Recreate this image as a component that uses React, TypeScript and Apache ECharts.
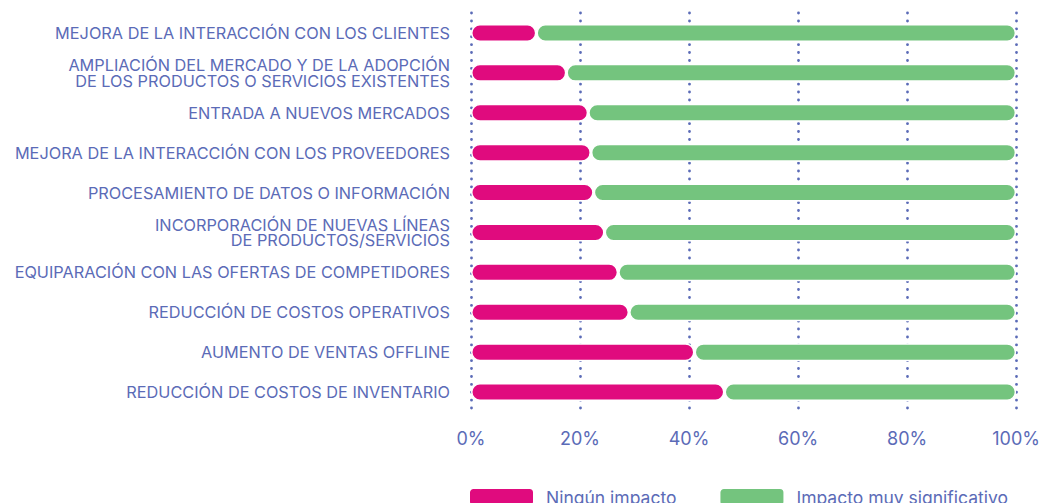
import React, { useEffect, useRef } from "react";
import * as echarts from "echarts";

const categories = [
  "MEJORA DE LA INTERACCIÓN CON LOS CLIENTES",
  "AMPLIACIÓN DEL MERCADO Y DE LA ADOPCIÓN\nDE LOS PRODUCTOS O SERVICIOS EXISTENTES",
  "ENTRADA A NUEVOS MERCADOS",
  "MEJORA DE LA INTERACCIÓN CON LOS PROVEEDORES",
  "PROCESAMIENTO DE DATOS O INFORMACIÓN",
  "INCORPORACIÓN DE NUEVAS LÍNEAS\nDE PRODUCTOS/SERVICIOS",
  "EQUIPARACIÓN CON LAS OFERTAS DE COMPETIDORES",
  "REDUCCIÓN DE COSTOS OPERATIVOS",
  "AUMENTO DE VENTAS OFFLINE",
  "REDUCCIÓN DE COSTOS DE INVENTARIO",
];
const ningunImpacto = [12, 17.5, 21.5, 22, 22.5, 24.5, 27, 29, 41, 46.5];
const impactoMuySignificativo = [88, 82.5, 78.5, 78, 77.5, 75.5, 73, 71, 59, 53.5];
const seriesNames = ["Ningún impacto", "Impacto muy significativo"];

const PINK = "#E00B7E";
const GREEN = "#74C47E";
const TEXT = "#5B6BB7";
const FONT = "Inter, 'Noto Sans', sans-serif";

export default function App() {
  const ref = useRef<HTMLDivElement>(null);
  useEffect(() => {
    if (!ref.current) return;
    const chart = echarts.init(ref.current, null, { renderer: "svg" });
    chart.setOption({
      animation: false,
      grid: { left: 471, right: 25, top: 13, bottom: 91, containLabel: false },
      legend: {
        left: 463,
        top: 482,
        itemWidth: 65,
        itemHeight: 18,
        itemGap: 42,
        icon: "roundRect",
        textStyle: { color: TEXT, fontSize: 17.5, fontFamily: FONT, padding: [0, 0, 0, 7] },
        data: seriesNames,
      },
      xAxis: {
        type: "value",
        min: 0,
        max: 100,
        interval: 20,
        axisLine: { show: false },
        axisTick: { show: false },
        axisLabel: {
          formatter: "{value}%",
          color: TEXT,
          fontSize: 18,
          fontFamily: FONT,
          margin: 17,
        },
        splitLine: {
          show: true,
          lineStyle: { color: TEXT, width: 2.8, type: [0.1, 7.8], cap: "round" },
        },
      },
      yAxis: {
        type: "category",
        inverse: true,
        data: categories,
        axisLine: { show: false },
        axisTick: { show: false },
        axisLabel: {
          color: TEXT,
          fontSize: 16.3,
          fontFamily: FONT,
          lineHeight: 15.5,
          margin: 21,
        },
      },
      series: [
        {
          name: seriesNames[0],
          type: "bar",
          stack: "total",
          barWidth: 18,
          data: ningunImpacto,
          itemStyle: { color: PINK, borderRadius: 9, borderColor: "#fff", borderWidth: 1.5 },
        },
        {
          name: seriesNames[1],
          type: "bar",
          stack: "total",
          barWidth: 18,
          data: impactoMuySignificativo,
          itemStyle: { color: GREEN, borderRadius: 9, borderColor: "#fff", borderWidth: 1.5 },
        },
      ],
    });
    return () => chart.dispose();
  }, []);
  return <div ref={ref} style={{ width: 1043, height: 503, position: "absolute", left: 0, top: 0 }} />;
}
